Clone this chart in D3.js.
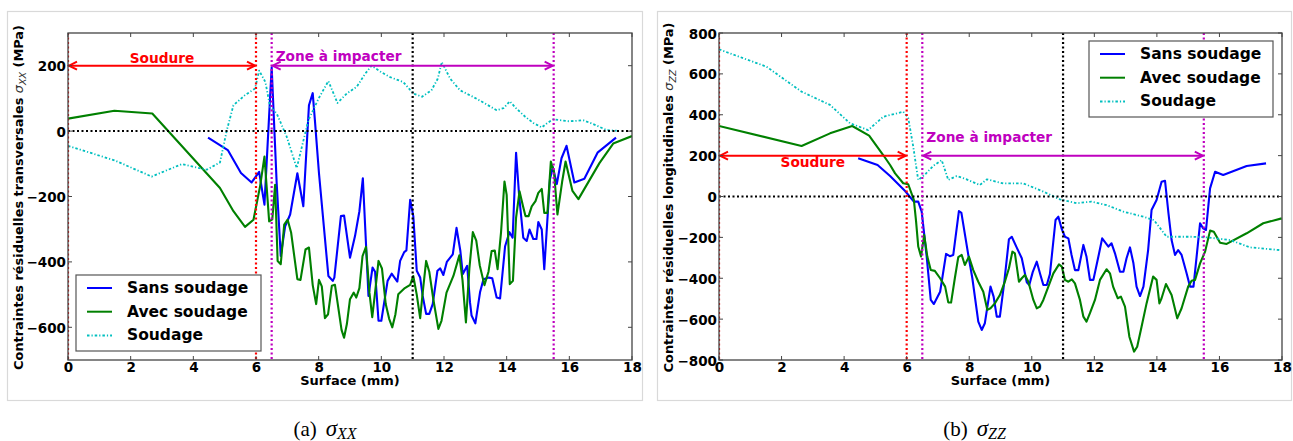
<!DOCTYPE html>
<html><head><meta charset="utf-8">
<script src="https://cdn.jsdelivr.net/npm/d3@7"></script>
<style>body{margin:0;background:#fff}svg{display:block}</style>
</head><body><svg id="c" width="1293" height="441"></svg>
<script>
// ---------- DATA ----------
const xTicks = [0,2,4,6,8,10,12,14,16,18];
const xxYTicks = [-600,-400,-200,0,200];
const zzYTicks = [-800,-600,-400,-200,0,200,400,600,800];
const seriesNames = ["Sans soudage","Avec soudage","Soudage"];
const soudureRange = [0,6];
const impactRange = [6.5,15.5];
const centreLine = [11];
const arrowLevel = [200];

const xxSans = [[4.47,-20],[5.1,-58],[5.52,-128],[5.86,-157],[6.1,-125],[6.27,-225],[6.5,195],[6.66,-159],[6.79,-382],[6.93,-291],[7.09,-255],[7.32,-129],[7.51,-230],[7.69,79],[7.81,116],[7.88,33],[8.01,-129],[8.31,-443],[8.45,-458],[8.5,-448],[8.71,-260],[8.81,-258],[9.0,-387],[9.16,-321],[9.3,-245],[9.41,-144],[9.59,-504],[9.72,-417],[9.8,-430],[9.91,-580],[10.0,-580],[10.2,-458],[10.33,-436],[10.51,-460],[10.6,-397],[10.73,-370],[10.8,-365],[10.92,-210],[11.02,-260],[11.13,-427],[11.24,-448],[11.32,-504],[11.43,-559],[11.53,-559],[11.64,-529],[11.79,-427],[11.88,-420],[11.98,-440],[12.09,-400],[12.28,-377],[12.4,-296],[12.52,-365],[12.6,-437],[12.74,-412],[12.83,-524],[12.88,-564],[13.0,-588],[13.15,-493],[13.26,-453],[13.43,-448],[13.54,-450],[13.68,-509],[13.79,-512],[13.95,-352],[14.09,-309],[14.19,-326],[14.3,-66],[14.4,-200],[14.53,-326],[14.64,-336],[14.73,-301],[14.85,-330],[14.95,-330],[15.01,-278],[15.12,-301],[15.2,-422],[15.38,-149],[15.47,-110],[15.6,-162],[15.75,-83],[15.91,-45],[16.16,-157],[16.48,-146],[16.9,-66],[17.49,-20]];
const xxAvec = [[0,38],[1.48,62],[2.69,54],[4.85,-174],[5.28,-245],[5.65,-293],[5.92,-271],[6.13,-169],[6.27,-78],[6.42,-276],[6.52,-270],[6.61,-164],[6.69,-397],[6.79,-407],[6.9,-286],[7.01,-271],[7.12,-310],[7.32,-453],[7.42,-455],[7.58,-362],[7.69,-356],[7.81,-471],[7.92,-529],[8.01,-455],[8.1,-475],[8.2,-572],[8.3,-560],[8.42,-473],[8.52,-470],[8.73,-608],[8.81,-632],[8.9,-590],[9.0,-514],[9.12,-494],[9.2,-509],[9.3,-480],[9.4,-382],[9.51,-354],[9.62,-494],[9.71,-569],[9.8,-494],[9.91,-397],[10.02,-420],[10.14,-529],[10.25,-574],[10.35,-600],[10.45,-560],[10.54,-499],[10.75,-480],[10.92,-470],[11.02,-443],[11.13,-500],[11.24,-572],[11.32,-494],[11.43,-397],[11.53,-430],[11.66,-515],[11.82,-605],[11.92,-580],[12.08,-494],[12.3,-443],[12.49,-380],[12.59,-455],[12.7,-585],[12.81,-420],[12.92,-309],[13.03,-335],[13.14,-410],[13.29,-471],[13.42,-430],[13.52,-367],[13.62,-365],[13.71,-422],[13.82,-310],[13.93,-154],[14.0,-195],[14.1,-468],[14.2,-458],[14.3,-265],[14.41,-184],[14.52,-229],[14.6,-260],[14.7,-260],[14.8,-230],[14.92,-214],[15.01,-189],[15.12,-177],[15.2,-250],[15.3,-250],[15.41,-93],[15.51,-124],[15.62,-255],[15.77,-155],[15.88,-93],[16.1,-183],[16.29,-208],[16.96,-98],[17.4,-38],[18,-15]];
const xxSoud = [[0,-45],[1.5,-90],[2.67,-139],[3.63,-101],[4.43,-118],[4.85,-96],[5.07,3],[5.28,79],[5.65,110],[5.97,130],[6.1,185],[6.3,150],[6.45,74],[6.66,54],[6.98,-17],[7.3,-113],[7.67,33],[8.0,100],[8.31,153],[8.6,86],[8.9,115],[9.22,136],[9.48,175],[9.69,200],[10.0,180],[10.28,165],[10.7,150],[11.02,115],[11.3,105],[11.6,125],[11.8,160],[11.93,211],[12.2,160],[12.51,125],[12.94,104],[13.3,85],[13.68,64],[13.9,70],[14.1,91],[14.3,70],[14.59,44],[14.85,25],[15.12,11],[15.3,25],[15.49,36],[16.0,30],[16.45,33],[16.8,20],[17.19,3],[17.51,1]];

const zzSans = [[4.45,187],[5.07,154],[5.47,100],[5.95,27],[6.23,-25],[6.37,-25],[6.48,-74],[6.64,-294],[6.77,-506],[6.87,-526],[7.07,-466],[7.26,-281],[7.38,-292],[7.49,-286],[7.67,-71],[7.75,-80],[7.97,-286],[8.1,-400],[8.29,-612],[8.4,-653],[8.5,-620],[8.68,-441],[8.78,-490],[8.88,-588],[8.98,-588],[9.12,-420],[9.27,-209],[9.36,-197],[9.52,-250],[9.68,-302],[9.84,-420],[9.92,-433],[10.03,-370],[10.16,-319],[10.27,-380],[10.37,-433],[10.48,-433],[10.58,-380],[10.76,-115],[10.85,-99],[10.96,-160],[11.06,-197],[11.17,-205],[11.27,-285],[11.38,-360],[11.49,-360],[11.65,-237],[11.75,-295],[11.86,-408],[11.97,-408],[12.13,-294],[12.25,-205],[12.45,-245],[12.55,-229],[12.66,-278],[12.82,-368],[12.93,-368],[13.03,-302],[13.14,-249],[13.25,-327],[13.35,-441],[13.46,-487],[13.57,-441],[13.72,-262],[13.83,-66],[13.99,-17],[14.15,72],[14.26,77],[14.37,-82],[14.47,-213],[14.58,-286],[14.68,-262],[14.79,-286],[14.95,-376],[15.06,-441],[15.17,-441],[15.27,-294],[15.38,-131],[15.48,-156],[15.57,-164],[15.7,40],[15.86,121],[16.12,105],[16.87,149],[17.49,162]];
const zzAvec = [[0,345],[2.64,247],[3.55,309],[4.26,345],[4.8,298],[5.25,203],[5.47,154],[5.63,113],[5.89,65],[6.05,60],[6.23,-17],[6.3,-120],[6.37,-245],[6.46,-294],[6.56,-188],[6.66,-294],[6.77,-360],[6.9,-364],[7.07,-400],[7.23,-441],[7.33,-518],[7.42,-519],[7.54,-400],[7.65,-297],[7.76,-286],[7.86,-335],[7.99,-294],[8.13,-360],[8.29,-417],[8.45,-466],[8.58,-555],[8.68,-547],[8.82,-523],[8.98,-482],[9.14,-417],[9.27,-351],[9.38,-270],[9.46,-278],[9.59,-417],[9.68,-400],[9.78,-384],[9.89,-417],[10.05,-506],[10.16,-547],[10.26,-539],[10.37,-506],[10.53,-441],[10.69,-376],[10.87,-332],[10.96,-343],[11.06,-408],[11.17,-417],[11.28,-405],[11.38,-425],[11.54,-506],[11.65,-588],[11.75,-612],[11.86,-571],[12.02,-506],[12.18,-408],[12.39,-356],[12.5,-376],[12.6,-441],[12.75,-498],[12.85,-490],[12.98,-539],[13.12,-686],[13.27,-759],[13.37,-735],[13.51,-637],[13.67,-523],[13.88,-392],[13.99,-408],[14.08,-523],[14.15,-498],[14.29,-428],[14.47,-482],[14.65,-596],[14.79,-547],[15.0,-441],[15.11,-412],[15.22,-408],[15.38,-327],[15.54,-270],[15.7,-167],[15.82,-172],[16.02,-226],[16.23,-232],[16.87,-180],[17.4,-131],[17.99,-107]];
const zzSoud = [[0,720],[1.52,635],[2.64,513],[3.55,448],[4.19,358],[4.77,325],[5.25,390],[5.89,415],[6.05,385],[6.21,244],[6.37,80],[6.6,110],[6.85,150],[7.12,178],[7.33,81],[7.6,100],[7.9,85],[8.34,56],[8.56,84],[9.09,64],[9.73,64],[10.37,24],[10.9,-14],[11.43,-33],[11.91,-25],[12.39,-42],[12.93,-74],[13.57,-99],[13.9,-115],[14.15,-164],[14.31,-197],[14.8,-197],[15.16,-197],[15.6,-200],[16.34,-213],[16.98,-249],[17.93,-262]];

// ---------- LAYOUT / STYLE ----------
const FONT = "'DejaVu Sans', sans-serif";
const styles = [
  {color:"#0000ff", dash:null},
  {color:"#008000", dash:null},
  {color:"#00bfbf", dash:"2.5,2,1.2,2"}
];
const panels = [
  {box:[7.5,11.5,642.5,400.5], plot:[68,33,632,360], yDomain:[-700,300], yTicks:xxYTicks,
   data:[xxSans,xxAvec,xxSoud], ylab:["Contraintes résiduelles transversales ","XX"," (MPa)"], ylabX:18,
   legend:[76,275,185,76], soudDy:-8, zoneDy:-10, cap:["(a)","XX"]},
  {box:[657.5,11.5,1291.5,400.5], plot:[719,33,1282,360], yDomain:[-800,800], yTicks:zzYTicks,
   data:[zzSans,zzAvec,zzSoud], ylab:["Contraintes résiduelles longitudinales ","ZZ"," (MPa)"], ylabX:668,
   legend:[1089,41,184,76], soudDy:6, zoneDy:-18.5, cap:["(b)","ZZ"]}
];

const svg = d3.select("#c");
svg.append("rect").attr("width",1293).attr("height",441).attr("fill","#fff");

panels.forEach((p,pi)=>{
  const [L,T,R,B] = p.plot;
  const x = d3.scaleLinear().domain([0,18]).range([L,R]);
  const y = d3.scaleLinear().domain(p.yDomain).range([B,T]);
  const g = svg.append("g");
  g.append("rect").attr("x",p.box[0]).attr("y",p.box[1]).attr("width",p.box[2]-p.box[0]).attr("height",p.box[3]-p.box[1])
    .attr("fill","none").attr("stroke","#d9d9d9").attr("stroke-width",1.2);
  const cid = "clip"+pi;
  svg.append("clipPath").attr("id",cid).append("rect").attr("x",L).attr("y",T).attr("width",R-L).attr("height",B-T);
  const pg = g.append("g").attr("clip-path",`url(#${cid})`);

  const line = d3.line().x(d=>x(d[0])).y(d=>y(d[1]));
  p.data.forEach((ser,si)=>{
    pg.append("path").attr("d",line(ser)).attr("fill","none")
      .attr("stroke",styles[si].color).attr("stroke-width",si==2?1.8:2.1)
      .attr("stroke-dasharray",styles[si].dash).attr("stroke-linejoin","round");
  });

  const vline = (v,col)=>pg.append("line").attr("x1",x(v)).attr("x2",x(v)).attr("y1",T).attr("y2",B)
      .attr("stroke",col).attr("stroke-width",2.2).attr("stroke-dasharray","2,2.5");
  pg.append("line").attr("x1",L).attr("x2",R).attr("y1",y(0)).attr("y2",y(0))
      .attr("stroke","#000").attr("stroke-width",2).attr("stroke-dasharray","2,2.5");
  soudureRange.forEach(v=>vline(v,"#ff0000"));
  impactRange.forEach(v=>vline(v,"#bf00bf"));
  centreLine.forEach(v=>vline(v,"#000"));

  const arrow = (a,b,col)=>{
    const yy = y(arrowLevel[0]), x1=x(a)+1, x2=x(b)-1;
    g.append("line").attr("x1",x1).attr("x2",x2).attr("y1",yy).attr("y2",yy).attr("stroke",col).attr("stroke-width",2);
    g.append("path").attr("d",`M${x1+8},${yy-4}L${x1},${yy}L${x1+8},${yy+4}M${x2-8},${yy-4}L${x2},${yy}L${x2-8},${yy+4}`)
      .attr("fill","none").attr("stroke",col).attr("stroke-width",2);
  };
  arrow(soudureRange[0],soudureRange[1],"#ff0000");
  arrow(impactRange[0],impactRange[1],"#bf00bf");
  g.append("text").attr("x",x((soudureRange[0]+soudureRange[1])/2)).attr("y",y(arrowLevel[0])+p.soudDy)
    .attr("text-anchor","middle").attr("dominant-baseline","central").attr("fill","#ff0000")
    .attr("font-family",FONT).attr("font-weight","bold").attr("font-size",13.7).text("Soudure");
  g.append("text").attr("x",x(impactRange[0])+4).attr("y",y(arrowLevel[0])+p.zoneDy)
    .attr("text-anchor","start").attr("dominant-baseline","central").attr("fill","#bf00bf")
    .attr("font-family",FONT).attr("font-weight","bold").attr("font-size",13.7).text("Zone à impacter");

  g.append("rect").attr("x",L).attr("y",T).attr("width",R-L).attr("height",B-T)
    .attr("fill","none").attr("stroke","#444").attr("stroke-width",1.3);
  const tk = g.append("g").attr("stroke","#444").attr("stroke-width",1);
  xTicks.forEach(v=>{
    tk.append("line").attr("x1",x(v)).attr("x2",x(v)).attr("y1",B).attr("y2",B-4);
    tk.append("line").attr("x1",x(v)).attr("x2",x(v)).attr("y1",T).attr("y2",T+4);
  });
  p.yTicks.forEach(v=>{
    tk.append("line").attr("x1",L).attr("x2",L+4).attr("y1",y(v)).attr("y2",y(v));
    tk.append("line").attr("x1",R).attr("x2",R-4).attr("y1",y(v)).attr("y2",y(v));
  });
  const xa = g.append("g").attr("transform",`translate(0,${B})`)
    .call(d3.axisBottom(x).tickValues(xTicks).tickSize(0).tickPadding(0).tickFormat(d3.format("d")));
  xa.select(".domain").remove();
  xa.selectAll("text").attr("y",12).attr("dy",null).attr("font-family",FONT).attr("font-weight","bold")
    .attr("font-size",13.5).attr("fill","#000");
  const ya = g.append("g").attr("transform",`translate(${L},0)`)
    .call(d3.axisLeft(y).tickValues(p.yTicks).tickSize(0).tickPadding(0).tickFormat(d=>d3.format("d")(d).replace("-","\u2212")));
  ya.select(".domain").remove();
  ya.selectAll("text").attr("x",-2).attr("dy",null).attr("dominant-baseline","central").attr("font-family",FONT).attr("font-weight","bold")
    .attr("font-size",13.5).attr("fill","#000");

  g.append("text").attr("x",(L+R)/2).attr("y",385).attr("text-anchor","middle")
    .attr("font-family",FONT).attr("font-weight","bold").attr("font-size",13).text("Surface (mm)");
  const yl = g.append("text").attr("transform",`translate(${p.ylabX+4.5},${(T+B)/2+1}) rotate(-90)`)
    .attr("text-anchor","middle").attr("font-family",FONT).attr("font-weight","bold").attr("font-size",12.9);
  yl.append("tspan").text(p.ylab[0]);
  yl.append("tspan").attr("font-style","italic").attr("font-weight","normal").attr("fill","#333").text("σ");
  yl.append("tspan").attr("font-style","italic").attr("font-weight","normal").attr("fill","#333").attr("font-size",9.5).attr("dy",3).text(p.ylab[1]);
  yl.append("tspan").attr("dy",-3).text(p.ylab[2]);

  const [lx,ly,lw,lh] = p.legend;
  const lg = g.append("g");
  lg.append("rect").attr("x",lx).attr("y",ly).attr("width",lw).attr("height",lh).attr("fill","#fff")
    .attr("stroke","#555").attr("stroke-width",1.2);
  seriesNames.forEach((n,i)=>{
    const yy = ly+13+i*23.7;
    lg.append("line").attr("x1",lx+11).attr("x2",lx+36).attr("y1",yy).attr("y2",yy)
      .attr("stroke",styles[i].color).attr("stroke-width",2).attr("stroke-dasharray",styles[i].dash);
    lg.append("text").attr("x",lx+51).attr("y",yy).attr("dominant-baseline","central")
      .attr("font-family",FONT).attr("font-weight","bold").attr("font-size",15.5).text(n);
  });

  const cap = svg.append("text").attr("x",(p.box[0]+p.box[2])/2).attr("y",436).attr("text-anchor","middle")
    .attr("font-family","'Liberation Serif', serif").attr("font-size",21);
  cap.append("tspan").text(p.cap[0]);
  cap.append("tspan").attr("dx",9).attr("font-style","italic").attr("font-size",23).text("σ");
  cap.append("tspan").attr("font-style","italic").attr("font-size",16).attr("dy",3).text(p.cap[1]);
});
</script></body></html>
